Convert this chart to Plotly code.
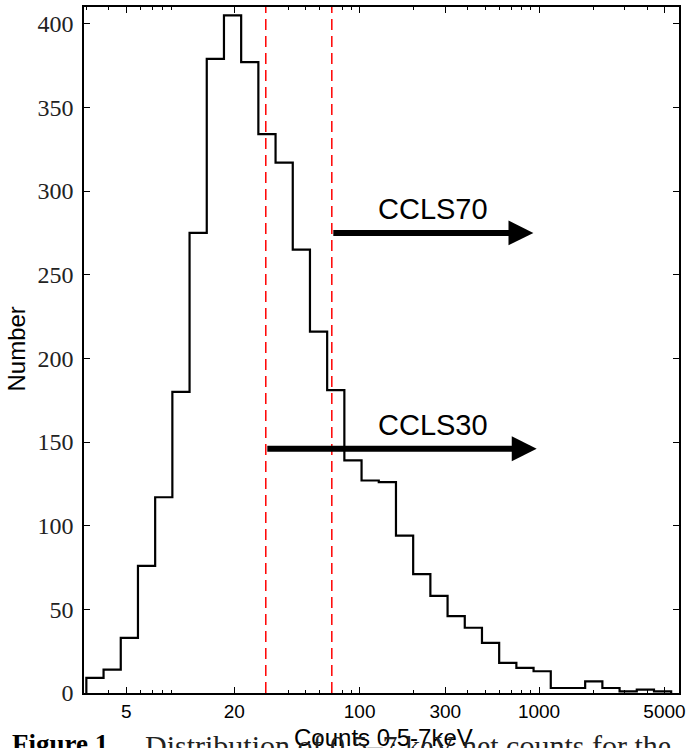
import numpy as np
import plotly.graph_objects as go

# ---- data ----
counts = [9, 14, 33, 76, 117, 180, 275, 379, 405, 377, 334, 317, 265, 216, 181,
          139, 127, 126, 94, 71, 58, 46, 39, 30, 18, 15, 13, 3, 3, 7, 3, 1, 2, 1]
bin_min = 3.0        # lower edge of first bin (counts)
bin_max = 5450.0     # upper edge of last bin (counts)
x_major_ticks = [5, 20, 100, 300, 1000, 5000]
x_minor_ticks = [3, 4, 6, 7, 8, 9, 30, 40, 50, 60, 70, 80, 90,
                 200, 400, 500, 600, 700, 800, 900, 2000, 3000, 4000]
y_ticks = [0, 50, 100, 150, 200, 250, 300, 350, 400]
cut_values = [30, 70]
arrow_labels = ["CCLS70", "CCLS30"]
arrow_start = [70, 30]
arrow_end = [930, 970]
arrow_level = [275, 146]
label_x = [257, 257]
label_y = [289, 160]

edges = np.logspace(np.log10(bin_min), np.log10(bin_max), len(counts) + 1)
xs = [edges[0]] + list(edges)
ys = [0] + counts + [0]

W, H = 691, 748
ML, MR, MT, MB = 84, 12, 5, 55
PH = H - MT - MB


def py(pixel_y):
    return (H - MB - pixel_y) / PH


def px(pixel_x):
    return (pixel_x - ML) / (W - ML - MR)


fig = go.Figure()
fig.add_trace(go.Scatter(x=xs, y=ys, mode="lines", line_shape="hv",
                         line=dict(color="black", width=2.2), showlegend=False,
                         hoverinfo="skip"))

for v in cut_values:
    fig.add_shape(type="line", x0=v, x1=v, xref="x", y0=0, y1=1, yref="paper",
                  line=dict(color="#ff0000", width=1.5, dash="11px,6px"), layer="above")

for lab, s, e, lv, tx, ty in zip(arrow_labels, arrow_start, arrow_end, arrow_level, label_x, label_y):
    fig.add_annotation(x=np.log10(e), y=lv, ax=np.log10(s), ay=lv,
                       xref="x", yref="y", axref="x", ayref="y",
                       text="", showarrow=True, arrowhead=2, arrowsize=0.83,
                       arrowwidth=6, arrowcolor="black")
    fig.add_annotation(x=np.log10(tx), y=ty, xref="x", yref="y", text=lab,
                       showarrow=False, xanchor="center", yanchor="middle",
                       font=dict(family="Liberation Sans, Arial", size=29, color="black"))

# axis titles
fig.add_annotation(x=px(17), y=py(348.5), xref="paper", yref="paper", text="Number",
                   textangle=-90, showarrow=False, xanchor="center", yanchor="middle",
                   font=dict(family="Liberation Sans, Arial", size=24, color="black"))
fig.add_annotation(x=px(383), y=py(738), xref="paper", yref="paper", text="Counts 0.5-7keV",
                   showarrow=False, xanchor="center", yanchor="middle",
                   font=dict(family="Liberation Sans, Arial", size=24, color="black"))

# caption (cut off by the page edge in the reference)
fig.add_annotation(x=px(10), y=py(727), xref="paper", yref="paper", text="<b>Figure 1.</b>",
                   showarrow=False, xanchor="left", yanchor="top",
                   font=dict(family="Liberation Serif, Times New Roman", size=27, color="black"))
fig.add_annotation(x=px(143), y=py(727), xref="paper", yref="paper",
                   text="Distribution of 0.5–7 keV net counts for the",
                   showarrow=False, xanchor="left", yanchor="top",
                   font=dict(family="Liberation Serif, Times New Roman", size=30, color="#222222"))

fig.update_xaxes(type="log", range=[0.464, 3.780],
                 tickmode="array", tickvals=x_major_ticks, ticktext=[str(v) for v in x_major_ticks],
                 ticks="inside", ticklen=6, tickwidth=1.2, tickcolor="black",
                 showline=True, linecolor="black", linewidth=1.6, mirror="ticks",
                 showgrid=False, zeroline=False,
                 tickfont=dict(family="Liberation Sans, Arial", size=19, color="black"),
                 minor=dict(tickmode="array", tickvals=x_minor_ticks, ticks="inside",
                            ticklen=3.5, tickwidth=1, tickcolor="black", showgrid=False))
fig.update_yaxes(range=[0, 410], tickmode="array", tickvals=y_ticks,
                 ticks="inside", ticklen=6, tickwidth=1.2, tickcolor="black",
                 showline=True, linecolor="black", linewidth=1.6, mirror="ticks",
                 showgrid=False, zeroline=False, ticklabelstandoff=4,
                 tickfont=dict(family="Liberation Serif, Times New Roman", size=24, color="#222222"))

fig.update_layout(width=W, height=H, margin=dict(l=ML, r=MR, t=MT, b=MB),
                  paper_bgcolor="white", plot_bgcolor="white", showlegend=False)

fig.write_html("out.html")
